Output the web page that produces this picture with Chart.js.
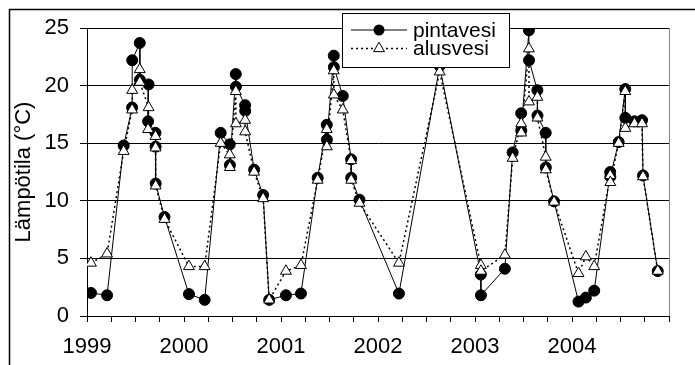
<!DOCTYPE html>
<html>
<head>
<meta charset="utf-8">
<script src="https://cdn.jsdelivr.net/npm/chart.js@4.4.1/dist/chart.umd.min.js"></script>
<style>
  body { margin: 0; background: #fff; }
</style>
</head>
<body>
<canvas id="tempChart" width="695" height="365"></canvas>
<script>
// sample dates as decimal years
const dates = [
  1999.041, 1999.207, 1999.378, 1999.465, 1999.466, 1999.544, 1999.545, 1999.635, 1999.630,
  1999.706, 1999.707, 1999.708, 1999.799,
  2000.051, 2000.213, 2000.378, 2000.472, 2000.473, 2000.534, 2000.535, 2000.630, 2000.631,
  2000.723, 2000.816, 2000.878,
  2001.051, 2001.206, 2001.378, 2001.472, 2001.473, 2001.544, 2001.545, 2001.637, 2001.723,
  2001.724, 2001.809,
  2002.216, 2002.636,
  2003.060, 2003.061, 2003.308, 2003.388, 2003.476, 2003.477, 2003.556, 2003.557, 2003.643,
  2003.644, 2003.729, 2003.730, 2003.815,
  2004.067, 2004.143, 2004.229, 2004.394, 2004.395, 2004.481, 2004.549, 2004.550, 2004.644,
  2004.722, 2004.732, 2004.884
];
const pintavesi = [
  2.0, 1.8, 14.8, 18.1, 22.2, 23.7, 20.5, 20.1, 16.9,
  15.9, 14.7, 11.5, 8.6,
  1.9, 1.4, 15.9, 14.9, 13.1, 21.0, 19.9, 18.3, 17.8,
  12.7, 10.5, 1.4,
  1.8, 1.95, 12.0, 16.6, 15.3, 22.6, 21.6, 19.1, 13.6,
  12.0, 10.1,
  1.95, 21.7,
  3.6, 1.8, 4.1, 14.2, 17.6, 16.1, 24.8, 22.2, 19.6,
  17.4, 15.9, 12.9, 9.95,
  1.25, 1.6, 2.2, 12.5, 12.1, 15.1, 19.7, 17.2, 16.9,
  17.0, 12.2, 3.9
];
const alusvesi = [
  4.6, 5.4, 14.3, 17.9, 19.6, 21.4, 20.3, 18.1, 16.2,
  15.6, 14.6, 11.3, 8.4,
  4.3, 4.3, 15.0, 14.0, 12.9, 19.5, 16.7, 17.0, 16.0,
  12.5, 10.2, 1.4,
  3.9, 4.4, 11.8, 16.2, 14.7, 21.3, 19.2, 17.9, 13.5,
  11.8, 9.8,
  4.6, 21.2,
  4.4, 3.9, 5.3, 13.7, 16.7, 15.9, 23.2, 18.6, 19.0,
  17.2, 13.8, 12.7, 9.9,
  3.7, 5.15, 4.3, 12.2, 11.6, 15.0, 19.5, 16.3, 16.7,
  16.7, 12.1, 3.9
];
const yearLabels = [1999, 2000, 2001, 2002, 2003, 2004];
const seriesNames = ['pintavesi', 'alusvesi'];

const FONT = '"Liberation Sans", Arial, sans-serif';
Chart.defaults.font.family = FONT;
Chart.defaults.font.size = 22;
Chart.defaults.color = '#000';

// background, frame, plot right edge and legend box
const decor = {
  id: 'decor',
  beforeDraw(chart) {
    const ctx = chart.ctx;
    ctx.save();
    ctx.fillStyle = '#fff';
    ctx.fillRect(0, 0, chart.width, chart.height);
    ctx.restore();
  },
  afterDraw(chart) {
    const { ctx, chartArea } = chart;
    ctx.save();
    // plot area right edge
    ctx.strokeStyle = '#888';
    ctx.lineWidth = 1;
    ctx.beginPath();
    ctx.moveTo(chartArea.right + 0.5, chartArea.top);
    ctx.lineTo(chartArea.right + 0.5, chartArea.bottom);
    ctx.stroke();
    // outer frame (left and top show)
    ctx.strokeStyle = '#000';
    ctx.lineWidth = 1.5;
    ctx.strokeRect(9.5, 9.5, 720, 400);

    // legend
    const bx = 342, by = 13, bw = 167, bh = 54;
    ctx.fillStyle = '#fff';
    ctx.fillRect(bx, by, bw, bh);
    ctx.lineWidth = 1;
    ctx.strokeStyle = '#000';
    ctx.strokeRect(bx + 0.5, by + 0.5, bw, bh);

    const rows = [30, 48.5];
    // solid line + circle
    ctx.beginPath();
    ctx.moveTo(351, rows[0]);
    ctx.lineTo(407, rows[0]);
    ctx.stroke();
    ctx.fillStyle = '#000';
    ctx.beginPath();
    ctx.arc(379, rows[0], 5.5, 0, Math.PI * 2);
    ctx.fill();
    // dotted line + triangle
    ctx.setLineDash([2, 3]);
    ctx.lineWidth = 1.5;
    ctx.beginPath();
    ctx.moveTo(351, rows[1]);
    ctx.lineTo(407, rows[1]);
    ctx.stroke();
    ctx.setLineDash([]);
    ctx.lineWidth = 1;
    const r = 6.3;
    ctx.beginPath();
    ctx.moveTo(379, rows[1] - r);
    ctx.lineTo(379 + r * 0.866, rows[1] + r / 2);
    ctx.lineTo(379 - r * 0.866, rows[1] + r / 2);
    ctx.closePath();
    ctx.fillStyle = '#fff';
    ctx.fill();
    ctx.stroke();

    ctx.fillStyle = '#000';
    ctx.font = '21px ' + FONT;
    ctx.textAlign = 'left';
    ctx.textBaseline = 'middle';
    ctx.fillText(seriesNames[0], 413, rows[0] + 1);
    ctx.fillText(seriesNames[1], 413, rows[1] + 1);
    ctx.restore();
  }
};

new Chart(document.getElementById('tempChart'), {
  type: 'line',
  data: {
    datasets: [{
      label: seriesNames[0],
      data: dates.map((d, i) => ({ x: d, y: pintavesi[i] })),
      borderColor: '#000',
      borderWidth: 1,
      pointStyle: 'circle',
      pointRadius: 5.5,
      pointBackgroundColor: '#000',
      pointBorderColor: '#000',
      tension: 0,
      order: 1
    }, {
      label: seriesNames[1],
      data: dates.map((d, i) => ({ x: d, y: alusvesi[i] })),
      borderColor: '#000',
      borderWidth: 1.5,
      borderDash: [2, 3],
      pointStyle: 'triangle',
      pointRadius: 6.3,
      pointBackgroundColor: '#fff',
      pointBorderColor: '#000',
      pointBorderWidth: 1,
      tension: 0,
      order: 0
    }]
  },
  options: {
    responsive: false,
    animation: false,
    devicePixelRatio: 1,
    layout: { padding: { top: 28, right: 26, left: 0, bottom: 0 } },
    plugins: {
      legend: { display: false },
      tooltip: { enabled: false }
    },
    scales: {
      x: {
        type: 'linear',
        min: 1999,
        max: 2005,
        afterFit(scale) { scale.height = 49; },
        ticks: {
          stepSize: 0.25,
          autoSkip: false,
          maxRotation: 0,
          padding: 12,
          callback: (v) => yearLabels.includes(v) ? String(v) : ''
        },
        grid: { drawOnChartArea: false, drawTicks: true, tickLength: 6, color: '#000' },
        border: { color: '#000', width: 1 }
      },
      y: {
        min: 0,
        max: 25,
        afterFit(scale) { scale.width = 87; },
        ticks: { stepSize: 5, padding: 11 },
        grid: { color: '#000', tickLength: 7 },
        border: { color: '#000', width: 1 },
        title: {
          display: true,
          text: 'Lämpötila (°C)',
          padding: { top: 11, bottom: 0 },
          font: { size: 22 }
        }
      }
    }
  },
  plugins: [decor]
});
</script>
</body>
</html>
